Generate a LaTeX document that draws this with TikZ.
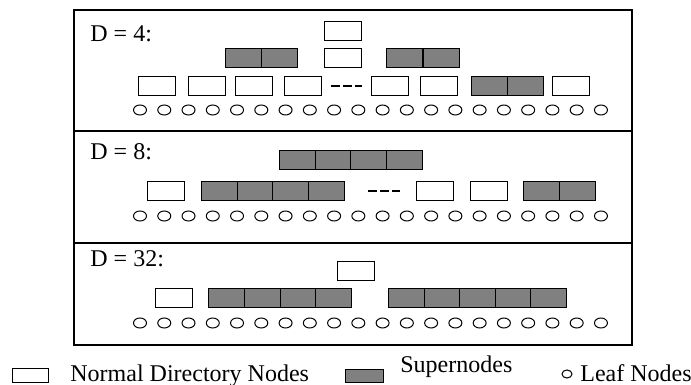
\documentclass[tikz,border=0pt]{standalone}
\usepackage{fontspec}
\setmainfont{Liberation Serif}
\usetikzlibrary{shapes.geometric}
\definecolor{supergray}{RGB}{128,128,128}

\begin{document}
\begin{tikzpicture}[x=0.5pt, y=-0.5pt,
		dirbox/.style={rectangle, draw=black, fill=white, line width=0.5pt,
			inner sep=0pt, minimum width=18.5pt, minimum height=9.5pt},
		supercell/.style={rectangle, draw=black, fill=supergray, line width=0.5pt,
			inner sep=0pt, minimum width=18pt, minimum height=9.5pt, anchor=west},
		leaf/.style={ellipse, draw=black, line width=0.5pt,
			inner sep=0pt, minimum width=6.5pt, minimum height=5pt},
		gapline/.style={line width=0.9pt, dash pattern=on 4.25pt off 1.75pt},
		label/.style={anchor=base west, inner sep=0pt, font=\fontsize{12}{14}\selectfont}]
				\useasboundingbox (0,0) rectangle (691,385);
				\draw[line width=0.9pt] (74,10) rectangle (632,345);
				\draw[line width=0.9pt] (74,131) -- (632,131);
				\draw[line width=0.9pt] (74,243) -- (632,243);
				% D = 4
				\node[label] (d4) at (90,41.5) {D = 4:};
				\node[dirbox] (top4) at (342.5,31) {};
				\foreach \i in {0,1}
					\node[supercell] (sa4\i) at ({225+36*\i},58.5) {};
				\node[dirbox] (mid4) at (342.5,58.5) {};
				\foreach \i in {0,1}
					\node[supercell] (sb4\i) at ({386+36.5*\i},58.5) {};
				\node[dirbox] (b4a) at (156.5,86.5) {};
				\node[dirbox] (b4b) at (206.5,86.5) {};
				\node[dirbox] (b4c) at (253.5,86.5) {};
				\node[dirbox] (b4d) at (302.5,86.5) {};
				\coordinate (g4a) at (331,86);
				\coordinate (g4b) at (362,86);
				\draw[gapline] (g4a) -- (g4b);
				\node[dirbox] (b4e) at (389.5,86.5) {};
				\node[dirbox] (b4f) at (438.5,86.5) {};
				\foreach \i in {0,1}
					\node[supercell] (sc4\i) at ({471+36*\i},86.5) {};
				\node[dirbox] (b4g) at (571,86.5) {};
				\foreach \i in {0,...,19}
					\node[leaf] (la\i) at ({140+24.26*\i},110) {};
				% D = 8
				\node[label] (d8) at (90,160) {D = 8:};
				\foreach \i in {0,...,3}
					\node[supercell] (sa8\i) at ({279+35.5*\i},160.5) {};
				\node[dirbox] (b8a) at (165.5,191) {};
				\foreach \i in {0,...,3}
					\node[supercell] (sb8\i) at ({201+35.5*\i},191) {};
				\coordinate (g8a) at (368,191);
				\coordinate (g8b) at (400,191);
				\draw[gapline] (g8a) -- (g8b);
				\node[dirbox] (b8b) at (435,191) {};
				\node[dirbox] (b8c) at (489,191) {};
				\foreach \i in {0,1}
					\node[supercell] (sc8\i) at ({523+36*\i},191) {};
				\foreach \i in {0,...,19}
					\node[leaf] (lb\i) at ({140+24.26*\i},216) {};
				% D = 32
				\node[label] (d32) at (90,266.5) {D = 32:};
				\node[dirbox] (top32) at (355.5,270.5) {};
				\node[dirbox] (b32a) at (173.5,297.5) {};
				\foreach \i in {0,...,3}
					\node[supercell] (sa32\i) at ({208+35.75*\i},297.5) {};
				\foreach \i in {0,...,4}
					\node[supercell] (sb32\i) at ({388+35.6*\i},297.5) {};
				\foreach \i in {0,...,19}
					\node[leaf] (lc\i) at ({140+24.26*\i},323) {};
				% legend
				\node[rectangle, draw=black, fill=white, line width=0.5pt, inner sep=0pt,
				minimum width=18pt, minimum height=7pt] (keydir) at (30,375) {};
				\node[label] (keydirtext) at (70,381.5) {Normal Directory Nodes};
				\node[rectangle, draw=black, fill=supergray, line width=0.5pt, inner sep=0pt,
				minimum width=19pt, minimum height=6.5pt] (keysuper) at (364,375.5) {};
				\node[label] (keysupertext) at (400,372) {Supernodes};
				\node[leaf, minimum width=5pt, minimum height=4pt] (keyleaf) at (567,374) {};
				\node[label] (keyleaftext) at (580,381.5) {Leaf Nodes};
			\end{tikzpicture}
\end{document}
